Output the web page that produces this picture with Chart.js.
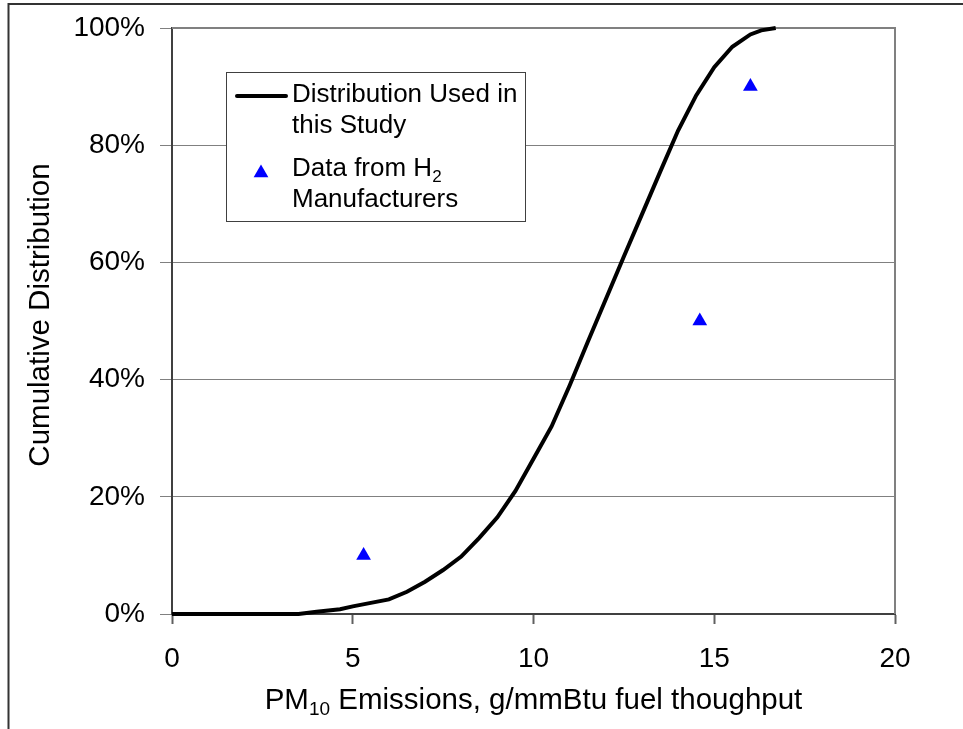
<!DOCTYPE html>
<html>
<head>
<meta charset="utf-8">
<script src="https://cdn.jsdelivr.net/npm/chart.js@4"></script>
<style>
  html, body { margin: 0; padding: 0; background: #fff; }
  canvas { display: block; }
</style>
</head>
<body>
<canvas id="c" width="963" height="729"></canvas>
<script>
// cumulative distribution curve (x in g/mmBtu, y in %)
const distX = [0, 1, 2, 3, 3.5, 4, 4.65, 5, 5.5, 6, 6.5, 7, 7.5, 8, 8.5, 9, 9.5, 10, 10.5, 11, 11.5, 12, 12.5, 13, 13.5, 14, 14.5, 15, 15.5, 16, 16.3, 16.7];
const distY = [0, 0, 0, 0, 0, 0.4, 0.8, 1.3, 1.9, 2.5, 3.8, 5.5, 7.5, 9.8, 13, 16.5, 21, 26.5, 32, 39, 46.4, 53.7, 61, 68.2, 75.4, 82.5, 88.5, 93.3, 96.8, 98.9, 99.6, 100];

// manufacturer data points
const mfrX = [5.3, 14.6, 16.0];
const mfrY = [10, 50, 90];

// legend text, "_{..}" marks a subscript
const legendLines = [
    ['Distribution Used in', 'this Study'],
    ['Data from H_{2}', 'Manufacturers']
];
const xTitle = 'PM_{10} Emissions, g/mmBtu fuel thoughput';
const yTitle = 'Cumulative Distribution';

const FONT = "'Liberation Sans', Arial, sans-serif";

// draw text with _{sub} parts
function richText(ctx, text, x, y, size, align) {
    const parts = [];
    const re = /_\{([^}]*)\}/g;
    let last = 0, m;
    while ((m = re.exec(text)) !== null) {
        if (m.index > last) parts.push({ t: text.slice(last, m.index), sub: false });
        parts.push({ t: m[1], sub: true });
        last = re.lastIndex;
    }
    if (last < text.length) parts.push({ t: text.slice(last), sub: false });

    const subSize = Math.round(size * 0.65);
    let total = 0;
    parts.forEach(p => {
        ctx.font = (p.sub ? subSize : size) + 'px ' + FONT;
        p.w = ctx.measureText(p.t).width;
        total += p.w;
    });
    let cx = align === 'center' ? x - total / 2 : x;
    ctx.textAlign = 'left';
    ctx.textBaseline = 'alphabetic';
    parts.forEach(p => {
        ctx.font = (p.sub ? subSize : size) + 'px ' + FONT;
        ctx.fillText(p.t, cx, p.sub ? y + size * 0.22 : y);
        cx += p.w;
    });
}

const framePlugin = {
    id: 'frame',
    beforeDraw(chart) {
        const ctx = chart.ctx;
        ctx.save();
        ctx.fillStyle = '#fff';
        ctx.fillRect(0, 0, chart.width, chart.height);
        // outer frame (cut off at right and bottom)
        ctx.strokeStyle = '#333';
        ctx.lineWidth = 2;
        ctx.beginPath();
        ctx.moveTo(8.5, 729);
        ctx.lineTo(8.5, 4);
        ctx.lineTo(963, 4);
        ctx.stroke();
        ctx.restore();
    },
    beforeDatasetsDraw(chart) {
        const ctx = chart.ctx;
        const a = chart.chartArea;
        ctx.save();
        ctx.strokeStyle = '#808080';
        ctx.lineWidth = 2;
        ctx.beginPath();
        ctx.moveTo(a.left, a.top);
        ctx.lineTo(a.right, a.top);
        ctx.lineTo(a.right, a.bottom);
        ctx.stroke();
        ctx.restore();
    },
    afterDraw(chart) {
        const ctx = chart.ctx;
        const a = chart.chartArea;
        ctx.save();
        ctx.fillStyle = '#000';
        // x axis title with subscript
        richText(ctx, xTitle, (a.left + a.right) / 2, 709, 29.5, 'center');

        // y axis title
        ctx.save();
        ctx.translate(49, 315);
        ctx.rotate(-Math.PI / 2);
        ctx.font = '29.5px ' + FONT;
        ctx.textAlign = 'center';
        ctx.textBaseline = 'alphabetic';
        ctx.fillText(yTitle, 0, 0);
        ctx.restore();

        // legend box
        const bx = 226.5, by = 72.5, bw = 299, bh = 149;
        ctx.fillStyle = '#fff';
        ctx.fillRect(bx, by, bw, bh);
        ctx.strokeStyle = '#404040';
        ctx.lineWidth = 1;
        ctx.strokeRect(bx, by, bw, bh);

        const ds = chart.data.datasets;
        // line sample
        ctx.strokeStyle = ds[0].borderColor;
        ctx.lineWidth = ds[0].borderWidth;
        ctx.lineCap = 'round';
        ctx.beginPath();
        ctx.moveTo(237, 96);
        ctx.lineTo(286, 96);
        ctx.stroke();
        // triangle sample
        ctx.fillStyle = ds[1].backgroundColor;
        const tx = 261, ty = 173, r = 8.5;
        ctx.beginPath();
        ctx.moveTo(tx, ty - r);
        ctx.lineTo(tx + r * 0.866, ty + r / 2);
        ctx.lineTo(tx - r * 0.866, ty + r / 2);
        ctx.closePath();
        ctx.fill();

        ctx.fillStyle = '#000';
        const baselines = [[102, 133], [176, 207]];
        legendLines.forEach((lines, i) => {
            lines.forEach((ln, j) => richText(ctx, ln, 292, baselines[i][j], 26, 'left'));
        });
        ctx.restore();
    }
};

const distData = distX.map((x, i) => ({ x: x, y: distY[i] }));
const mfrData = mfrX.map((x, i) => ({ x: x, y: mfrY[i] }));

new Chart(document.getElementById('c'), {
    type: 'scatter',
    data: {
        datasets: [{
            label: legendLines[0].join(' '),
            data: distData,
            showLine: true,
            borderColor: '#000',
            backgroundColor: '#000',
            borderWidth: 4,
            pointRadius: 0,
            tension: 0,
            clip: false
        }, {
            label: legendLines[1].join(' '),
            data: mfrData,
            showLine: false,
            pointStyle: 'triangle',
            pointRadius: 8.5,
            backgroundColor: '#0000ff',
            borderColor: '#0000ff',
            borderWidth: 0
        }]
    },
    options: {
        responsive: false,
        animation: false,
        devicePixelRatio: 1,
        layout: { padding: { left: 0, top: 28, right: 68, bottom: 0 } },
        plugins: {
            legend: { display: false },
            tooltip: { enabled: false }
        },
        scales: {
            x: {
                type: 'linear',
                min: 0,
                max: 20,
                afterFit(s) { s.height = 115; },
                ticks: {
                    stepSize: 5,
                    color: '#000',
                    padding: 18,
                    font: { family: FONT, size: 28 }
                },
                grid: {
                    drawOnChartArea: false,
                    drawTicks: true,
                    tickLength: 10,
                    tickColor: '#606060',
                    tickWidth: 2
                },
                border: { color: '#404040', width: 2 }
            },
            y: {
                type: 'linear',
                min: 0,
                max: 100,
                afterFit(s) {
                    s.width = 172;
                    // don't let the label overhang push the plot down
                    s.paddingTop = 0;
                    s.paddingBottom = 0;
                },
                ticks: {
                    stepSize: 20,
                    color: '#000',
                    padding: 15,
                    font: { family: FONT, size: 28 },
                    callback: v => v + '%'
                },
                grid: {
                    color: '#808080',
                    lineWidth: 1,
                    tickLength: 12,
                    tickColor: '#808080'
                },
                border: { color: '#404040', width: 2 }
            }
        }
    },
    plugins: [framePlugin]
});
</script>
</body>
</html>
